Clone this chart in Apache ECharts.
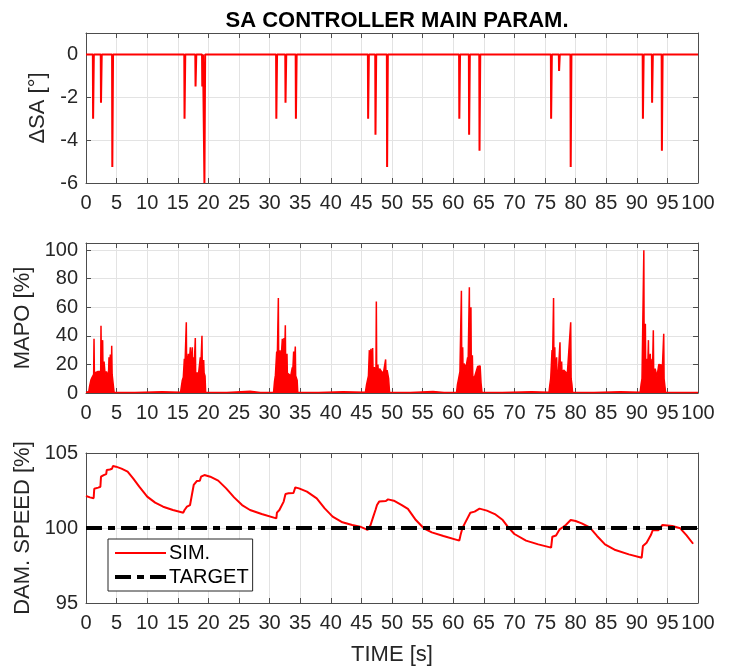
<!DOCTYPE html>
<html>
<head>
<meta charset="utf-8">
<script src="https://cdn.jsdelivr.net/npm/echarts@6/dist/echarts.min.js"></script>
<style>
html,body{margin:0;padding:0;background:#fff;}
#chart{width:732px;height:671px;}
</style>
</head>
<body>
<div id="chart"></div>
<script>
// ---------------- DATA ----------------
const titleText = 'SA CONTROLLER MAIN PARAM.';
const xName = 'TIME [s]';
const yNames = ['\u0394SA [\u00b0]', 'MAPO [%]', 'DAM. SPEED [%]'];

// ΔSA: downward spikes (time [s], value [°]); zero elsewhere
const saSpikeTime  = [1.16, 2.45, 4.3, 16.1, 17.9, 19.0, 19.35, 31.1, 32.6, 34.3, 46.1, 47.3, 49.2, 61.0, 62.6, 64.3, 76.0, 77.3, 79.2, 91.0, 92.5, 94.1];
const saSpikeDepth = [-3.0, -2.25, -5.25, -3.0, -1.5, -1.5, -6.0, -3.0, -2.25, -3.0, -3.0, -3.75, -5.25, -3.0, -3.75, -4.5, -3.0, -0.77, -5.25, -3.0, -2.25, -4.5];

// MAPO [%]: time and value samples
const mapoTime = [
  0, 0.45, 0.6, 0.8, 1.0, 1.25, 1.31, 1.37, 1.6, 1.9, 2.2, 2.4, 2.45, 2.52, 2.72, 2.78, 2.95, 3.05, 3.12, 3.3, 3.5, 3.7, 3.76, 3.82, 3.98, 4.05, 4.15, 4.2, 4.27, 4.45, 4.55, 4.6,
  8.0, 12.4, 15.45,
  15.6, 15.74, 15.9, 16.07, 16.13, 16.33, 16.39, 16.45, 16.72, 16.78, 17.05, 17.12, 17.37, 17.43, 17.59, 17.65, 17.86, 17.92, 18.14, 18.4, 18.68, 18.74, 18.95, 19.01, 19.23, 19.3, 19.45, 19.55,
  23.0, 26.8, 28.5, 30.65,
  30.8, 30.95, 31.16, 31.22, 31.43, 31.49, 31.7, 31.76, 32.08, 32.14, 32.35, 32.41, 32.57, 32.63, 32.84, 32.9, 33.17, 33.45, 33.71, 33.77, 33.93, 33.99, 34.2, 34.26, 34.5, 34.6,
  38.0, 42.0, 45.65,
  45.85, 46.0, 46.15, 46.3, 46.36, 46.56, 46.62, 46.84, 46.9, 47.1, 47.38, 47.44, 47.5, 47.7, 47.76, 47.98, 48.3, 48.58, 48.8, 48.96, 49.02, 49.2, 49.45, 49.6,
  53.0, 56.7, 58.5, 60.55,
  60.7, 60.84, 61.1, 61.34, 61.4, 61.55, 61.61, 61.77, 62.1, 62.36, 62.42, 62.64, 62.7, 62.9, 62.96, 63.13, 63.2, 63.4, 63.72, 64.0, 64.2, 64.4, 64.55, 64.7,
  68.0, 72.8, 75.65,
  75.8, 75.93, 76.15, 76.21, 76.4, 76.46, 76.6, 76.66, 76.9, 76.96, 77.2, 77.45, 77.51, 77.72, 77.78, 78.05, 78.32, 78.65, 78.92, 79.2, 79.27, 79.4, 79.5,
  83.0, 87.3, 90.55,
  90.7, 90.85, 91.15, 91.21, 91.4, 91.46, 91.7, 91.76, 91.9, 91.96, 92.2, 92.26, 92.5, 92.56, 92.7, 92.76, 93.0, 93.3, 93.6, 93.9, 94.2, 94.4, 94.46, 94.6, 94.7,
  97.5, 100
];
const mapoValue = [
  0.3, 1, 5, 9, 11, 13, 38, 14, 15, 15, 14, 15, 47, 16, 37, 15, 22, 22, 13, 15, 12, 16, 25, 15, 27, 14, 16, 33, 13, 14, 2, 0.3,
  0.3, 0.8, 0.5,
  5, 9, 11, 24, 13, 14, 49.5, 15, 27.5, 15, 32, 17, 32, 16, 25, 15, 38.5, 14, 15, 14, 25, 15, 40, 15, 23, 14, 12, 0.5,
  0.4, 1.3, 0.4, 0.5,
  8, 12.5, 29, 14, 66.5, 15, 30, 15, 38, 16, 38.5, 17, 47.5, 16, 27.5, 14, 13.5, 12, 18, 14, 29, 15, 32.5, 12, 9, 0.5,
  0.4, 0.8, 0.5,
  6, 9, 12, 30, 14, 31, 15, 31.5, 16, 18, 16, 64, 16, 20, 15, 17, 15, 13.5, 14, 23.5, 13, 16, 10, 0.5,
  0.4, 1.0, 0.4, 0.5,
  6, 9, 15, 71.5, 16, 32, 15, 20.5, 18, 25, 15, 74, 16, 60, 15, 26.5, 12, 10, 10.5, 18.5, 18, 19, 7, 0.5,
  0.4, 0.9, 0.5,
  6, 10, 30, 14, 66.5, 15, 32, 14, 25, 14, 16, 35.5, 14, 22, 14, 16, 16, 13.5, 14, 49.5, 10, 6, 0.5,
  0.4, 0.9, 0.5,
  6, 10, 100, 14, 48.5, 15, 24, 14, 37, 15, 27.5, 14, 24, 14, 44, 14, 17, 11.5, 20, 20.5, 19.5, 41.5, 10, 4.5, 0.5,
  0.4, 0.4
];

// DAM. SPEED [%]
const speedTime = [0, 0.65, 1.25, 1.35, 2.0, 2.35, 2.45, 2.9, 3.3, 3.4, 3.9, 4.25, 4.4, 4.9, 5.8, 6.8, 7.7, 8.7, 10.0, 11.3, 12.6, 14.2, 15.9, 16.1, 16.5, 17.0, 17.3, 17.6, 18.1, 18.6, 18.8, 19.35, 20.3, 21.6, 22.9, 24.2, 25.5, 26.8, 28.7, 31.1, 31.2, 31.6, 32.3, 32.6, 33.1, 33.9, 34.2, 34.8, 36.1, 37.7, 39.0, 40.3, 41.9, 43.5, 44.8, 46.0, 46.5, 46.9, 47.3, 47.55, 47.9, 49.0, 49.35, 50.3, 51.6, 52.6, 53.9, 55.2, 56.5, 58.4, 61.0, 61.2, 61.5, 61.9, 62.8, 63.5, 64.3, 65.5, 66.8, 68.1, 69.0, 70.0, 71.9, 73.9, 76.0, 76.2, 76.8, 77.4, 77.9, 78.4, 79.2, 80.0, 81.0, 82.3, 83.5, 84.8, 86.5, 88.7, 90.8, 91.0, 91.6, 92.3, 92.6, 92.9, 93.5, 94.2, 94.5, 95.8, 97.1, 98.1, 99.2];
const speedValue = [102.13, 102.04, 101.98, 102.62, 102.69, 102.75, 103.42, 103.53, 103.6, 103.87, 103.9, 103.95, 104.13, 104.09, 103.96, 103.76, 103.31, 102.76, 102.09, 101.69, 101.42, 101.2, 101.02, 101.2, 101.42, 101.53, 102.2, 102.87, 103.13, 103.15, 103.42, 103.53, 103.42, 103.16, 102.64, 102.04, 101.53, 101.2, 100.93, 100.64, 101.02, 101.2, 101.76, 102.27, 102.31, 102.33, 102.71, 102.64, 102.42, 101.98, 101.31, 100.76, 100.38, 100.2, 100.09, 99.87, 100.2, 100.71, 101.2, 101.53, 101.76, 101.8, 101.91, 101.82, 101.53, 101.27, 100.53, 99.98, 99.71, 99.47, 99.16, 99.53, 99.98, 100.31, 101.02, 101.09, 101.29, 101.16, 100.93, 100.53, 100.04, 99.6, 99.16, 98.91, 98.69, 99.42, 99.5, 99.91, 100.05, 100.2, 100.53, 100.47, 100.31, 100.04, 99.47, 98.91, 98.53, 98.24, 98.02, 98.8, 99.02, 99.53, 99.85, 99.82, 99.85, 100.2, 100.24, 100.13, 99.98, 99.53, 98.95];
const targetTime = [0, 100];
const targetValue = [100, 100];
const legendNames = ['SIM.', 'TARGET'];

// ---------------- BUILD ----------------
const FONT = "'Liberation Sans', Arial, Helvetica, sans-serif";
const TXT = '#262626';
const AX = '#4d4d4d';
const GRIDC = '#e3e3e3';

const saData = [[0, 0]];
saSpikeTime.forEach((t, i) => {
  saData.push([t - 0.04, 0], [t, saSpikeDepth[i]], [t + 0.08, saSpikeDepth[i]], [t + 0.12, 0]);
});
saData.push([100, 0]);

const mapoData = mapoTime.map((t, i) => [t, mapoValue[i]]);
const speedData = speedTime.map((t, i) => [t, speedValue[i]]);
const targetData = targetTime.map((t, i) => [t, targetValue[i]]);

const grids = [
  {left: 86, right: 34, top: 33, height: 150},
  {left: 86, right: 34, top: 243, height: 150},
  {left: 86, right: 34, top: 453, height: 150}
];
const yRanges = [
  {min: -6, max: 1, interval: 2, showMax: false, gap: 25},
  {min: 0, max: 105, interval: 20, showMax: false, gap: 41},
  {min: 95, max: 105, interval: 5, showMax: true, gap: 41}
];

const xAxes = [], yAxes = [];
grids.forEach((g, i) => {
  xAxes.push({
    type: 'value', gridIndex: i, position: 'bottom', min: 0, max: 100, interval: 5,
    axisLine: {show: true, onZero: false, lineStyle: {color: AX, width: 1}},
    axisTick: {show: true, inside: true, length: 5, lineStyle: {color: AX}},
    axisLabel: {show: true, fontSize: 20, color: TXT, fontFamily: FONT, margin: 10, hideOverlap: false},
    splitLine: {show: true, lineStyle: {color: GRIDC, width: 1}},
    name: i === 2 ? xName : '', nameLocation: 'middle', nameGap: 41,
    nameTextStyle: {fontSize: 22, color: TXT, fontFamily: FONT}
  });
  xAxes.push({
    type: 'value', gridIndex: i, position: 'top', min: 0, max: 100, interval: 5,
    axisLine: {show: true, onZero: false, lineStyle: {color: AX, width: 1}},
    axisTick: {show: true, inside: true, length: 5, lineStyle: {color: AX}},
    axisLabel: {show: false}, splitLine: {show: false}
  });
  const r = yRanges[i];
  yAxes.push({
    type: 'value', gridIndex: i, position: 'left', min: r.min, max: r.max, interval: r.interval,
    axisLine: {show: true, onZero: false, lineStyle: {color: AX, width: 1}},
    axisTick: {show: true, inside: true, length: 5, lineStyle: {color: AX}},
    axisLabel: {show: true, fontSize: 20, color: TXT, fontFamily: FONT, margin: 8, showMaxLabel: r.showMax},
    splitLine: {show: true, lineStyle: {color: GRIDC, width: 1}},
    name: yNames[i], nameLocation: 'middle', nameGap: r.gap, nameRotate: 90,
    nameTextStyle: {fontSize: 22, color: TXT, fontFamily: FONT}
  });
  yAxes.push({
    type: 'value', gridIndex: i, position: 'right', min: r.min, max: r.max, interval: r.interval,
    axisLine: {show: true, onZero: false, lineStyle: {color: AX, width: 1}},
    axisTick: {show: true, inside: true, length: 5, lineStyle: {color: AX}},
    axisLabel: {show: false}, splitLine: {show: false}
  });
});

const option = {
  animation: false,
  backgroundColor: '#ffffff',
  title: {
    text: titleText, left: 392, top: 5, textAlign: 'center',
    textStyle: {fontSize: 22, fontWeight: 'bold', color: '#000', fontFamily: FONT}
  },
  grid: grids,
  xAxis: xAxes,
  yAxis: yAxes,
  legend: {
    data: [
      {name: legendNames[0], lineStyle: {width: 2}},
      {name: legendNames[1], lineStyle: {width: 4}}
    ],
    orient: 'vertical', left: 108, top: 539,
    backgroundColor: '#fff', borderColor: '#262626', borderWidth: 1,
    padding: [4, 4, 4, 5], itemWidth: 51, itemHeight: 14, itemGap: 4,
    itemStyle: {opacity: 0, borderWidth: 0},
    textStyle: {fontSize: 20, color: '#000', fontFamily: FONT, padding: [0, 0, 0, -2]}
  },
  series: [
    {name: 'dSA', type: 'line', xAxisIndex: 0, yAxisIndex: 0, data: saData, symbol: 'none',
     lineStyle: {color: '#ff0000', width: 2}, itemStyle: {color: '#ff0000'}},
    {name: 'MAPO', type: 'line', xAxisIndex: 2, yAxisIndex: 2, data: mapoData, symbol: 'none',
     lineStyle: {color: '#ff0000', width: 1.5}, itemStyle: {color: '#ff0000'},
     areaStyle: {color: '#ff0000', opacity: 1}},
    {name: legendNames[0], type: 'line', xAxisIndex: 4, yAxisIndex: 4, data: speedData, symbol: 'none',
     lineStyle: {color: '#ff0000', width: 2}, itemStyle: {color: '#ff0000'}},
    {name: legendNames[1], type: 'line', xAxisIndex: 4, yAxisIndex: 4, data: targetData, symbol: 'none',
     lineStyle: {color: '#000000', width: 4, type: [16, 6, 7, 6], cap: 'butt'}, itemStyle: {color: '#000'}, z: 3}
  ]
};

const chart = echarts.init(document.getElementById('chart'), null, {renderer: 'canvas'});
chart.setOption(option);
</script>
</body>
</html>
